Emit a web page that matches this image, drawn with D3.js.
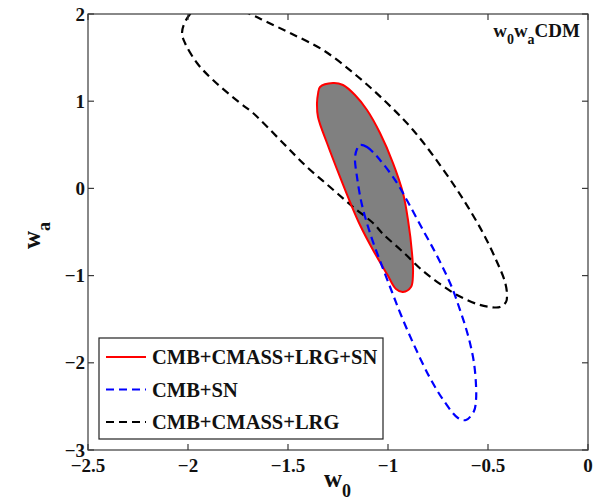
<!DOCTYPE html>
<html>
<head>
<meta charset="utf-8">
<script src="https://cdn.jsdelivr.net/npm/d3@7/dist/d3.min.js"></script>
<style>
  html, body { margin: 0; padding: 0; background: #fff; }
  svg text { font-family: "Liberation Serif", "Times New Roman", serif; font-weight: bold; fill: #111; }
</style>
</head>
<body>
<svg id="chart" width="594" height="502"></svg>
<script>
// Tick values and labels
const xTicks = [-2.5, -2, -1.5, -1, -0.5, 0];
const yTicks = [-3, -2, -1, 0, 1, 2];

// 68% confidence contours in the (w0, wa) plane
const contourCombined = [ // CMB+CMASS+LRG+SN
  [-1.34, 1.163], [-1.275, 1.209], [-1.225, 1.186], [-1.165, 1.071], [-1.105, 0.899],
  [-1.04, 0.635], [-0.975, 0.291], [-0.925, -0.053], [-0.90, -0.362], [-0.88, -0.741],
  [-0.875, -0.97], [-0.885, -1.131], [-0.925, -1.188], [-0.96, -1.154], [-1.005, -0.982],
  [-1.075, -0.706], [-1.14, -0.42], [-1.19, -0.156], [-1.24, 0.131], [-1.305, 0.521],
  [-1.35, 0.819], [-1.355, 0.979], [-1.35, 1.083]
];
const contourSN = [ // CMB+SN
  [-1.14, 0.498], [-1.105, 0.475], [-1.04, 0.326], [-0.955, 0.062], [-0.895, -0.179],
  [-0.825, -0.477], [-0.765, -0.729], [-0.715, -0.959], [-0.675, -1.165], [-0.645, -1.36],
  [-0.615, -1.567], [-0.59, -1.773], [-0.57, -2.002], [-0.56, -2.255], [-0.56, -2.427],
  [-0.57, -2.553], [-0.61, -2.656], [-0.65, -2.633], [-0.72, -2.438], [-0.79, -2.174],
  [-0.87, -1.796], [-0.935, -1.452], [-0.98, -1.188], [-1.03, -0.89], [-1.085, -0.546],
  [-1.13, -0.19], [-1.155, 0.131], [-1.165, 0.349], [-1.155, 0.452]
];
const contourBAO = [ // CMB+CMASS+LRG
  [-2.03, 1.782], [-2.01, 1.93], [-1.95, 2.08], [-1.82, 2.12], [-1.69, 2.0],
  [-1.605, 1.908], [-1.49, 1.782], [-1.325, 1.587], [-1.155, 1.289], [-1.005, 0.979],
  [-0.875, 0.67], [-0.74, 0.268], [-0.625, -0.122], [-0.525, -0.511], [-0.455, -0.844],
  [-0.415, -1.073], [-0.405, -1.222], [-0.41, -1.303], [-0.44, -1.36], [-0.49, -1.36],
  [-0.555, -1.326], [-0.655, -1.222], [-0.74, -1.096], [-0.825, -0.947], [-0.925, -0.729],
  [-1.025, -0.523], [-1.075, -0.397], [-1.175, -0.213], [-1.29, 0.016], [-1.405, 0.245],
  [-1.525, 0.521], [-1.675, 0.865], [-1.74, 0.979], [-1.875, 1.243], [-1.955, 1.438],
  [-2.015, 1.667]
];

const legendLabels = ["CMB+CMASS+LRG+SN", "CMB+SN", "CMB+CMASS+LRG"];

const svg = d3.select("#chart");
const box = { left: 88, right: 588, top: 14, bottom: 450 };

const x = d3.scaleLinear().domain([-2.5, 0]).range([box.left, box.right]);
const y = d3.scaleLinear().domain([-3, 2]).range([box.bottom, box.top]);

svg.append("defs").append("clipPath").attr("id", "plotClip")
  .append("rect").attr("x", box.left).attr("y", box.top)
  .attr("width", box.right - box.left).attr("height", box.bottom - box.top);

const line = d3.line()
  .x(d => x(d[0])).y(d => y(d[1]))
  .curve(d3.curveCatmullRomClosed.alpha(0.5));

const plot = svg.append("g").attr("clip-path", "url(#plotClip)");

// filled combined contour
plot.append("path").attr("d", line(contourCombined))
  .attr("fill", "#808080").attr("stroke", "none");

// CMB+CMASS+LRG
plot.append("path").attr("d", line(contourBAO))
  .attr("fill", "none").attr("stroke", "#000").attr("stroke-width", 2.2)
  .attr("stroke-dasharray", "8,5");

// combined contour outline
plot.append("path").attr("d", line(contourCombined))
  .attr("fill", "none").attr("stroke", "#ff0000").attr("stroke-width", 2);

// CMB+SN
plot.append("path").attr("d", line(contourSN))
  .attr("fill", "none").attr("stroke", "#0000ff").attr("stroke-width", 2.2)
  .attr("stroke-dasharray", "8,5");

// frame
const frameColor = "#3a3a3a";
svg.append("rect").attr("x", box.left).attr("y", box.top)
  .attr("width", box.right - box.left).attr("height", box.bottom - box.top)
  .attr("fill", "none").attr("stroke", frameColor).attr("stroke-width", 1.2);

// inward ticks on all four sides
const tl = 6;
const axes = svg.append("g").attr("stroke", frameColor).attr("stroke-width", 1.2);
xTicks.forEach(t => {
  axes.append("line").attr("x1", x(t)).attr("x2", x(t)).attr("y1", box.bottom).attr("y2", box.bottom - tl);
  axes.append("line").attr("x1", x(t)).attr("x2", x(t)).attr("y1", box.top).attr("y2", box.top + tl);
});
yTicks.forEach(t => {
  axes.append("line").attr("x1", box.left).attr("x2", box.left + tl).attr("y1", y(t)).attr("y2", y(t));
  axes.append("line").attr("x1", box.right).attr("x2", box.right - tl).attr("y1", y(t)).attr("y2", y(t));
});

const fmt = v => (v < 0 ? "\u2212" : "") + String(Math.abs(v));

svg.append("g").selectAll("text").data(xTicks).join("text")
  .attr("x", d => x(d)).attr("y", 472)
  .attr("text-anchor", "middle").attr("font-size", 19)
  .text(fmt);

svg.append("g").selectAll("text").data(yTicks).join("text")
  .attr("x", 85).attr("y", d => y(d)).attr("dy", "0.35em")
  .attr("text-anchor", "end").attr("font-size", 19)
  .text(fmt);

// axis labels
const xl = svg.append("text").attr("x", 324).attr("y", 487).attr("font-size", 25);
xl.append("tspan").text("w");
xl.append("tspan").attr("font-size", 18).attr("dy", 10).text("0");

const yl = svg.append("text").attr("transform", "translate(40,249) rotate(-90)")
  .attr("font-size", 25);
yl.append("tspan").text("w");
yl.append("tspan").attr("font-size", 18).attr("dy", 10).text("a");

// model label
const tt = svg.append("text").attr("x", 580).attr("y", 37)
  .attr("text-anchor", "end").attr("font-size", 19);
tt.append("tspan").text("w");
tt.append("tspan").attr("font-size", 14).attr("dy", 7).text("0");
tt.append("tspan").attr("dy", -7).text("w");
tt.append("tspan").attr("font-size", 14).attr("dy", 7).text("a");
tt.append("tspan").attr("dy", -7).text("CDM");

// legend
const lg = svg.append("g");
lg.append("rect").attr("x", 99).attr("y", 338).attr("width", 284).attr("height", 101)
  .attr("fill", "#fff").attr("stroke", "#222").attr("stroke-width", 1.2);
const legendStyles = [
  { color: "#ff0000", dash: null },
  { color: "#0000ff", dash: "8,5" },
  { color: "#000000", dash: "8,5" }
];
const legendY = [357, 389.5, 422];
legendLabels.forEach((lab, i) => {
  const s = legendStyles[i];
  const ln = lg.append("line").attr("x1", 106).attr("x2", 146)
    .attr("y1", legendY[i]).attr("y2", legendY[i])
    .attr("stroke", s.color).attr("stroke-width", 2.2);
  if (s.dash) ln.attr("stroke-dasharray", s.dash);
  lg.append("text").attr("x", 152).attr("y", legendY[i]).attr("dy", "0.35em")
    .attr("font-size", 20.5).text(lab);
});
</script>
</body>
</html>
